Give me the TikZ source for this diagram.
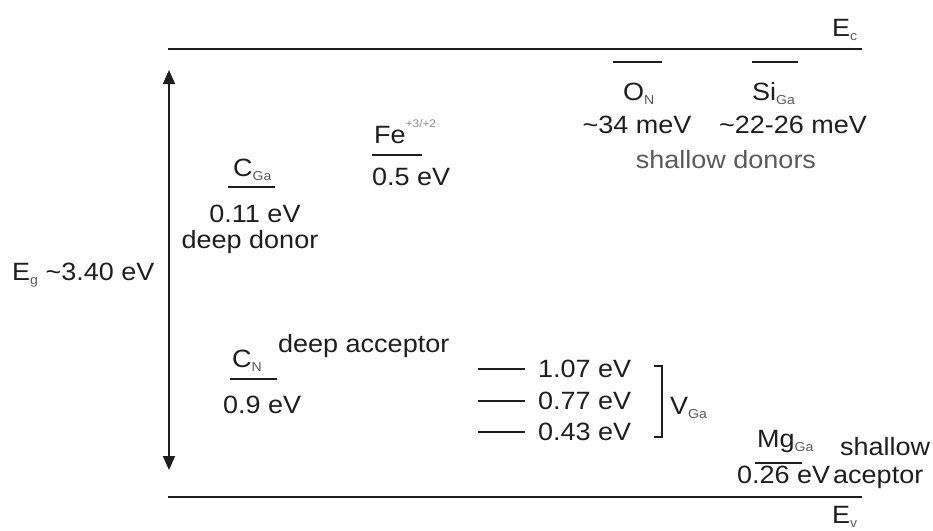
\documentclass[tikz,border=0pt]{standalone}
\usepackage{fontspec}
\setmainfont{Liberation Sans}[FakeStretch=1.08]
\usetikzlibrary{arrows.meta, positioning}
\definecolor{bdBlack}{HTML}{1E1E1E}
\definecolor{bdGrey}{HTML}{5A5A5A}
\definecolor{bdLight}{HTML}{8A8A8A}
\newcommand{\lsub}[1]{\raisebox{-0.35ex}{\fontsize{13}{13}\selectfont\color{bdGrey}#1}}
\newcommand{\lsup}[1]{\raisebox{1.15ex}{\fontsize{11}{11}\selectfont\color{bdLight}#1}}
\tikzset{
  bandline/.style  = {bdBlack, line width=2.8pt},
  levelline/.style = {bdBlack, line width=2.2pt},
  gaparrow/.style  = {{Triangle[length=14pt,width=12pt]}-{Triangle[length=14pt,width=12pt]},
                      bdBlack, line width=1.8pt},
  lbl/.style       = {font=\fontsize{25}{28}\selectfont, text=bdBlack, inner sep=0pt},
  glbl/.style      = {lbl, text=bdGrey},
}

\begin{document}
\begin{tikzpicture}[x=1pt, y=-1pt]
  \useasboundingbox (0,0) rectangle (933,530);

  % band edges
  \draw[bandline] (168,49) -- (862,49);
  \draw[bandline] (168,497) -- (862,497);
  \node[lbl, anchor=base west] (ec) at (832,36) {E\lsub{c}};
  \node[lbl, anchor=base west] (ev) at (832,523) {E\lsub{v}};

  % gap
  \coordinate (egtop) at (169,70);
  \coordinate (egbot) at (169,470);
  \draw[gaparrow] (egtop) -- (egbot);
  \node[lbl, anchor=base west] (eg) at (12,280) {E\lsub{g} \textasciitilde3.40 eV};

  % C_Ga
  \node[lbl, anchor=base west] (cga) at (233,176) {C\lsub{Ga}};
  \draw[levelline] (228,187) -- (275,187);
  \node[lbl, anchor=base] (cgaE) at (255,222) {0.11 eV};
  \node[lbl, anchor=base] (cgaT) at (250,248) {deep donor};

  % Fe
  \node[lbl, anchor=base west] (fe) at (374,143) {Fe\lsup{+3/+2}};
  \draw[levelline] (372,155) -- (422,155);
  \node[lbl, anchor=base west] (feE) at (372,185) {0.5 eV};

  % shallow donors
  \draw[levelline] (613,62) -- (662,62);
  \node[lbl, anchor=base west] (on) at (623,100) {O\lsub{N}};
  \node[lbl, anchor=base] (onE) at (637,133) {\textasciitilde34 meV};
  \draw[levelline] (752,62) -- (798,62);
  \node[lbl, anchor=base west] (siga) at (752,100) {Si\lsub{Ga}};
  \node[lbl, anchor=base] (sigaE) at (793,133) {\textasciitilde22-26 meV};
  \node[glbl, anchor=base] (sdon) at (726,168) {shallow donors};

  % C_N
  \node[lbl, anchor=base west] (cn) at (232,367) {C\lsub{N}};
  \draw[levelline] (230,379) -- (277,379);
  \node[lbl, anchor=base west] (cnE) at (223,413) {0.9 eV};
  \node[lbl, anchor=base west] (cnT) at (278,352) {deep acceptor};

  % V_Ga
  \foreach \y/\e [count=\i] in {369/1.07, 401/0.77, 432/0.43} {
    \draw[levelline] (478,\y) -- (525,\y);
    \node[lbl, anchor=west] (vga\i) at (538,\y) {\e\ eV};
  }
  \draw[levelline] (654,366) -- (662,366) -- (662,437) -- (654,437);
  \node[lbl, anchor=base west] (vga) at (670,414) {V\lsub{Ga}};

  % Mg_Ga
  \node[lbl, anchor=base west] (mg) at (757,447) {Mg\lsub{Ga}};
  \draw[levelline] (755,463) -- (802,463);
  \node[lbl, anchor=base west] (mgE) at (737,483) {0.26 eV};
  \node[lbl, anchor=base west] (mgT) at (840,455) {shallow};
  \node[lbl, anchor=base west] (mgT2) at (833,483) {aceptor};
\end{tikzpicture}
\end{document}
